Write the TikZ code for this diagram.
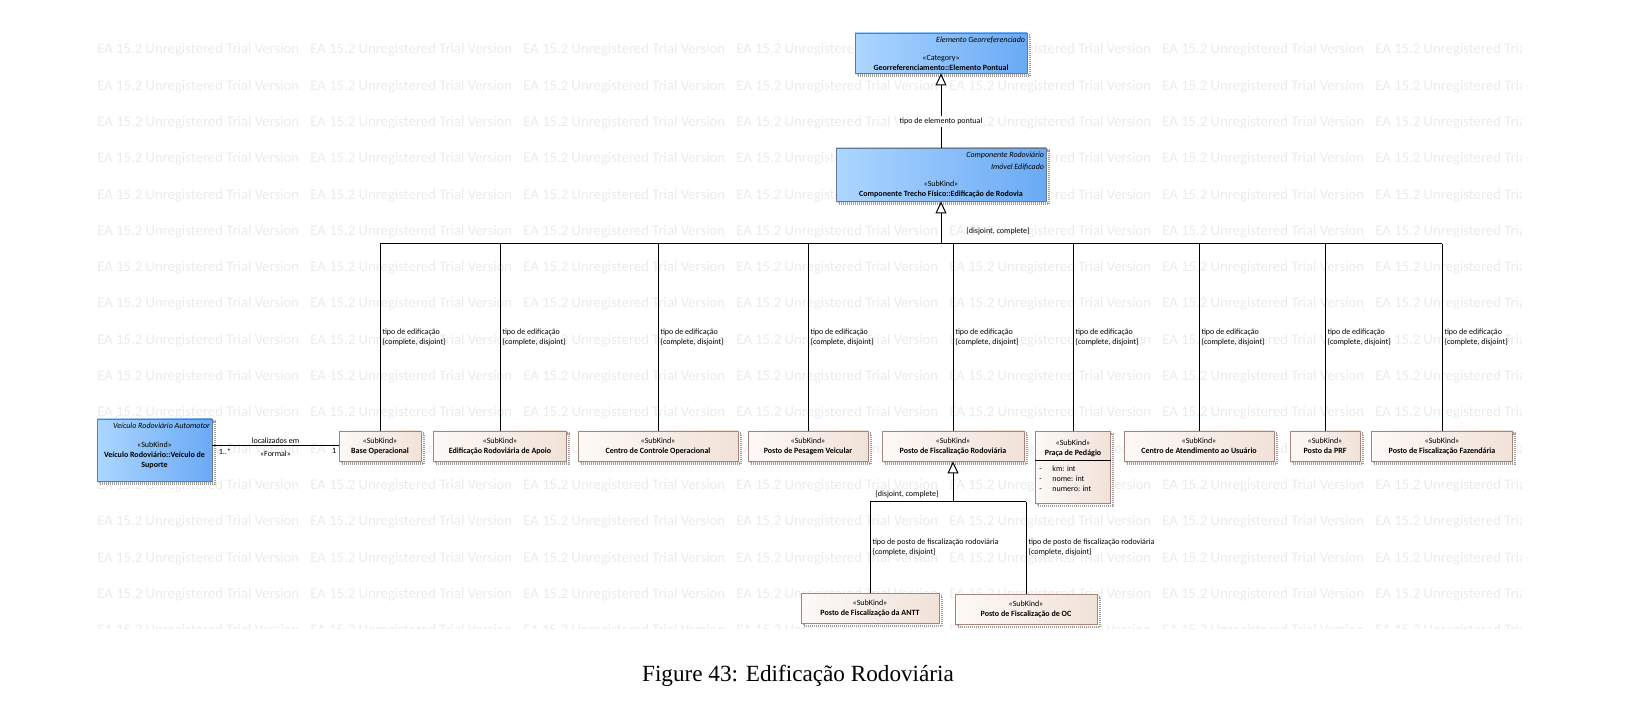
\documentclass[tikz,border=0pt]{standalone}
\usepackage{fontspec}
\setmainfont{Carlito}
\newfontfamily\capfont{Liberation Serif}
\usepackage{tikz}
\usetikzlibrary{arrows.meta, positioning, shadows}

\definecolor{eablueL}{RGB}{172,214,255}
\definecolor{eablueR}{RGB}{106,170,245}
\definecolor{eablueD}{RGB}{100,122,150}
\definecolor{eabeigeL}{RGB}{253,249,246}
\definecolor{eabeigeR}{RGB}{241,226,216}
\definecolor{eabeigeD}{RGB}{168,132,122}
\definecolor{wmgray}{RGB}{235,235,235}

\tikzstyle{eashadow} = [drop shadow={shadow xshift=1.3pt, shadow yshift=-1.3pt, opacity=1, fill=none, draw=gray!75, line width=1.1pt, dash pattern=on 0.5pt off 0.5pt}]
\tikzstyle{catbox} = [rectangle, draw=eablueD, line width=0.4pt, left color=eablueL, right color=eablueR, eashadow, inner sep=0pt]
\tikzstyle{kindbox} = [rectangle, draw=eabeigeD, line width=0.4pt, left color=eabeigeL, right color=eabeigeR, eashadow, inner sep=0pt, minimum height=15pt, align=center, font=\fontsize{4}{5}\selectfont]
\tikzstyle{boxtxt} = [inner sep=0pt, align=center, font=\fontsize{4}{5}\selectfont]
\tikzstyle{tagtxt} = [inner xsep=1pt, inner ysep=2pt, align=right, font=\fontsize{4}{6}\selectfont\itshape]
\tikzstyle{lbl} = [inner sep=1pt, align=left, font=\fontsize{4}{5}\selectfont]
\tikzstyle{conn} = [draw=black, line width=0.5pt]
\tikzstyle{gen} = [conn, -{Triangle[fill=white, length=6pt, width=5.5pt]}]
\tikzstyle{wmark} = [inner sep=0pt, anchor=west, text=wmgray, font=\fontsize{7.35}{8}\selectfont]

\begin{document}
\begin{tikzpicture}[x=0.5pt, y=-0.5pt]
    \useasboundingbox (0,0) rectangle (1652,704);

    % Watermark
    \begin{scope}
        \clip (90,28) rectangle (1521,628);
        \foreach \r in {0,...,16}
            \foreach \c in {0,...,6}
                \node (wm-\r-\c) [wmark] at (97+213*\c, 50+36.3*\r) {EA 15.2 Unregistered Trial Version};
    \end{scope}

    % Elemento pontual
    \node (elem) [catbox, minimum width=86pt, minimum height=20pt] at (941,53) {};
    \node (elemtag) [tagtxt, anchor=north east] at (elem.north east) {Elemento Georreferenciado};
    \node (elemname) [boxtxt] at (941,63) {«Category»\\\textbf{Georreferenciamento::Elemento Pontual}};

    % Edificacao de rodovia
    \node (comp) [catbox, minimum width=105pt, minimum height=26.5pt] at (941,174.5) {};
    \node (comptag) [tagtxt, anchor=north east] at (comp.north east) {Componente Rodoviário\\Imóvel Edificado};
    \node (compname) [boxtxt] at (941,189) {«SubKind»\\\textbf{Componente Trecho Físico::Edificação de Rodovia}};

    % Veiculo de suporte
    \node (veic) [catbox, minimum width=57.5pt, minimum height=31pt] at (154.5,450) {};
    \node (veictag) [tagtxt, anchor=north east] at (veic.north east) {Veículo Rodoviário Automotor};
    \node (veicname) [boxtxt] at (154.5,455) {«SubKind»\\\textbf{Veículo Rodoviário::Veículo de}\\\textbf{Suporte}};

    % Tipos de edificacao
    \node (base) [kindbox, minimum width=41pt] at (380,446) {«SubKind»\\\textbf{Base Operacional}};
    \node (apoio) [kindbox, minimum width=66.5pt] at (500,446) {«SubKind»\\\textbf{Edificação Rodoviária de Apoio}};
    \node (centro) [kindbox, minimum width=80pt] at (658,446) {«SubKind»\\\textbf{Centro de Controle Operacional}};
    \node (pesagem) [kindbox, minimum width=60pt] at (808,446) {«SubKind»\\\textbf{Posto de Pesagem Veicular}};
    \node (fiscal) [kindbox, minimum width=71pt] at (953,446) {«SubKind»\\\textbf{Posto de Fiscalização Rodoviária}};
    \node (praca) [kindbox, minimum width=37.5pt, minimum height=36pt, anchor=north] at (1073,431) {};
    \node (pracaname) [boxtxt] at (1073,448) {«SubKind»\\\textbf{Praça de Pedágio}};
    \node (pracaattr) [boxtxt, align=left, anchor=north west] at (1039,466) {\makebox[6.5pt][l]{-}km: int\\\makebox[6.5pt][l]{-}nome: int\\\makebox[6.5pt][l]{-}numero: int};
    \node (atend) [kindbox, minimum width=75pt] at (1199,446) {«SubKind»\\\textbf{Centro de Atendimento ao Usuário}};
    \node (prf) [kindbox, minimum width=35pt] at (1325,446) {«SubKind»\\\textbf{Posto da PRF}};
    \node (fazenda) [kindbox, minimum width=70.5pt] at (1442,446) {«SubKind»\\\textbf{Posto de Fiscalização Fazendária}};

    % Postos de fiscalizacao
    \node (antt) [kindbox, minimum width=69pt] at (870,608) {«SubKind»\\\textbf{Posto de Fiscalização da ANTT}};
    \node (oc) [kindbox, minimum width=71pt] at (1026,609) {«SubKind»\\\textbf{Posto de Fiscalização de OC}};

    \coordinate (bus) at (0,244);
    \coordinate (subbus) at (0,502);

    % Arrows
    \draw [conn] (praca.west |- 0,461) -- (praca.east |- 0,461);
    \draw [gen] (comp.north) -- node[lbl, pos=.35, fill=white] {tipo de elemento pontual} (elem.south);
    \draw [gen] (comp.south |- bus) -- (comp.south);
    \node (gsettop) [lbl] at (998,231) {\{disjoint, complete\}};
    \draw [conn] (base.north |- bus) -- (fazenda.north |- bus);
    \draw [conn] (base.north |- bus) -- node[lbl, anchor=west, pos=.5] {tipo de edificação\\\{complete, disjoint\}} (base.north);
    \draw [conn] (apoio.north |- bus) -- node[lbl, anchor=west, pos=.5] {tipo de edificação\\\{complete, disjoint\}} (apoio.north);
    \draw [conn] (centro.north |- bus) -- node[lbl, anchor=west, pos=.5] {tipo de edificação\\\{complete, disjoint\}} (centro.north);
    \draw [conn] (pesagem.north |- bus) -- node[lbl, anchor=west, pos=.5] {tipo de edificação\\\{complete, disjoint\}} (pesagem.north);
    \draw [conn] (fiscal.north |- bus) -- node[lbl, anchor=west, pos=.5] {tipo de edificação\\\{complete, disjoint\}} (fiscal.north);
    \draw [conn] (praca.north |- bus) -- node[lbl, anchor=west, pos=.5] {tipo de edificação\\\{complete, disjoint\}} (praca.north);
    \draw [conn] (atend.north |- bus) -- node[lbl, anchor=west, pos=.5] {tipo de edificação\\\{complete, disjoint\}} (atend.north);
    \draw [conn] (prf.north |- bus) -- node[lbl, anchor=west, pos=.5] {tipo de edificação\\\{complete, disjoint\}} (prf.north);
    \draw [conn] (fazenda.north |- bus) -- node[lbl, anchor=west, pos=.5] {tipo de edificação\\\{complete, disjoint\}} (fazenda.north);

    \draw [gen] (fiscal.south |- subbus) -- (fiscal.south);
    \node (gsetsub) [lbl, anchor=east] at (941,494) {\{disjoint, complete\}};
    \draw [conn] (antt.north |- subbus) -- (oc.north |- subbus);
    \draw [conn] (antt.north |- subbus) -- node[lbl, anchor=west, pos=.5] {tipo de posto de fiscalização rodoviária\\\{complete, disjoint\}} (antt.north);
    \draw [conn] (oc.north |- subbus) -- node[lbl, anchor=west, pos=.5] {tipo de posto de fiscalização rodoviária\\\{complete, disjoint\}} (oc.north);

    \draw [conn] (veic.east |- base.west) -- node[lbl, above] {localizados em} node[lbl, below=1pt] {«Formal»} node[lbl, pos=0, anchor=north west, xshift=2pt] {1..*} node[lbl, pos=1, anchor=north east] {1} (base.west);

    % Caption
    \node (caption) [inner sep=0pt, font=\capfont\fontsize{11.6}{13}\selectfont] at (798,676) {Figure 43: Edificação Rodoviária};
\end{tikzpicture}
\end{document}
